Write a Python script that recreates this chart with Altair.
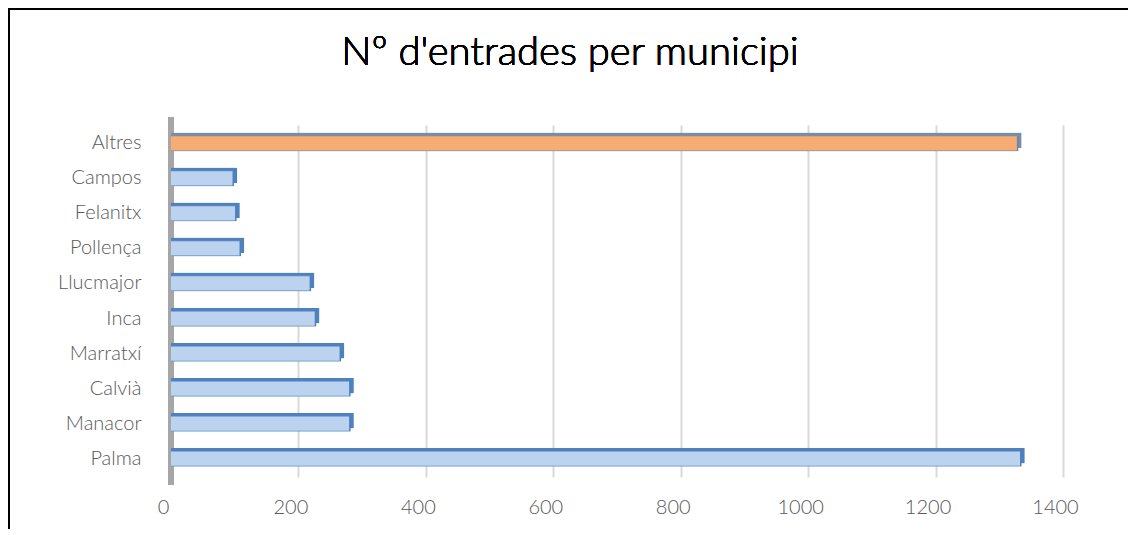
import altair as alt
import pandas as pd

municipis = ["Altres", "Campos", "Felanitx", "Pollença", "Llucmajor", "Inca",
             "Marratxí", "Calvià", "Manacor", "Palma"]
entrades = [1335, 104, 108, 115, 225, 233, 272, 287, 287, 1340]
grup = ["Altres", "Mun", "Mun", "Mun", "Mun", "Mun", "Mun", "Mun", "Mun", "Mun"]
x_ticks = [0, 200, 400, 600, 800, 1000, 1200, 1400]

df = pd.DataFrame({"municipi": municipis, "entrades": entrades, "grup": grup})

W, H = 892, 352
PL, PT, PB = 163, 117, 52
PR = 1120 - PL - W

x_enc = alt.X("entrades:Q", scale=alt.Scale(domain=[0, 1400], nice=False),
              axis=alt.Axis(values=x_ticks, title=None, grid=True, gridColor="#d9d9d9",
                            gridWidth=2, domain=False, ticks=False, labelPadding=20,
                            labelFlush=False, labelOffset=-8,
                            format="d", labelFont="Lato", labelFontSize=20,
                            labelFontWeight=300, labelColor="#595959"))
y_enc = alt.Y("municipi:N", sort=municipis,
              scale=alt.Scale(paddingInner=0.55, paddingOuter=0.3),
              axis=alt.Axis(title=None, domain=False, ticks=False, labelPadding=30,
                            labelFont="Lato", labelFontSize=20, labelFontWeight=300,
                            labelColor="#595959"))

base = alt.Chart(df)

wall = base.mark_rule(color="#a6a6a6", strokeWidth=5).encode(
    x=alt.value(0), y=alt.value(-8), y2=alt.value(H + 8))

depth = base.mark_bar(xOffset=0, yOffset=-3, cornerRadius=1).encode(
    x=x_enc, y=y_enc,
    color=alt.Color("grup:N", scale=alt.Scale(domain=["Altres", "Mun"],
                                              range=["#7a8ca3", "#4f81bd"]), legend=None))

front = base.mark_bar(strokeWidth=1.5, cornerRadius=1, xOffset=-4).encode(
    x=x_enc, y=y_enc,
    fill=alt.Fill("grup:N", scale=alt.Scale(domain=["Altres", "Mun"],
                                            range=["#f7ac74", "#bcd3f0"]), legend=None),
    stroke=alt.Stroke("grup:N", scale=alt.Scale(domain=["Altres", "Mun"],
                                                range=["#6f88a8", "#4f81bd"]), legend=None))

frame_left = base.mark_rule(color="black", strokeWidth=2).encode(
    x=alt.value(-PL + 1), y=alt.value(-PT), y2=alt.value(H + PB))
frame_top = base.mark_rule(color="black", strokeWidth=2).encode(
    x=alt.value(-PL), x2=alt.value(W + PR), y=alt.value(-PT + 1))

title_txt = base.mark_text(text="Nº d'entrades per municipi", font="Lato",
                           fontSize=40, fontWeight=300, color="black",
                           align="center", baseline="alphabetic").encode(
    x=alt.value(570 - 8 - PL), y=alt.value(65 - 8 - PT))

chart = alt.layer(wall, depth, front, frame_left, frame_top, title_txt).properties(
    width=W, height=H,
    background="white",
    autosize=alt.AutoSizeParams(type="none"),
    padding={"left": PL, "top": PT, "right": PR, "bottom": PB},
).configure_view(stroke=None)

chart.save("out.html", embed_options={"renderer": "svg", "actions": False})
